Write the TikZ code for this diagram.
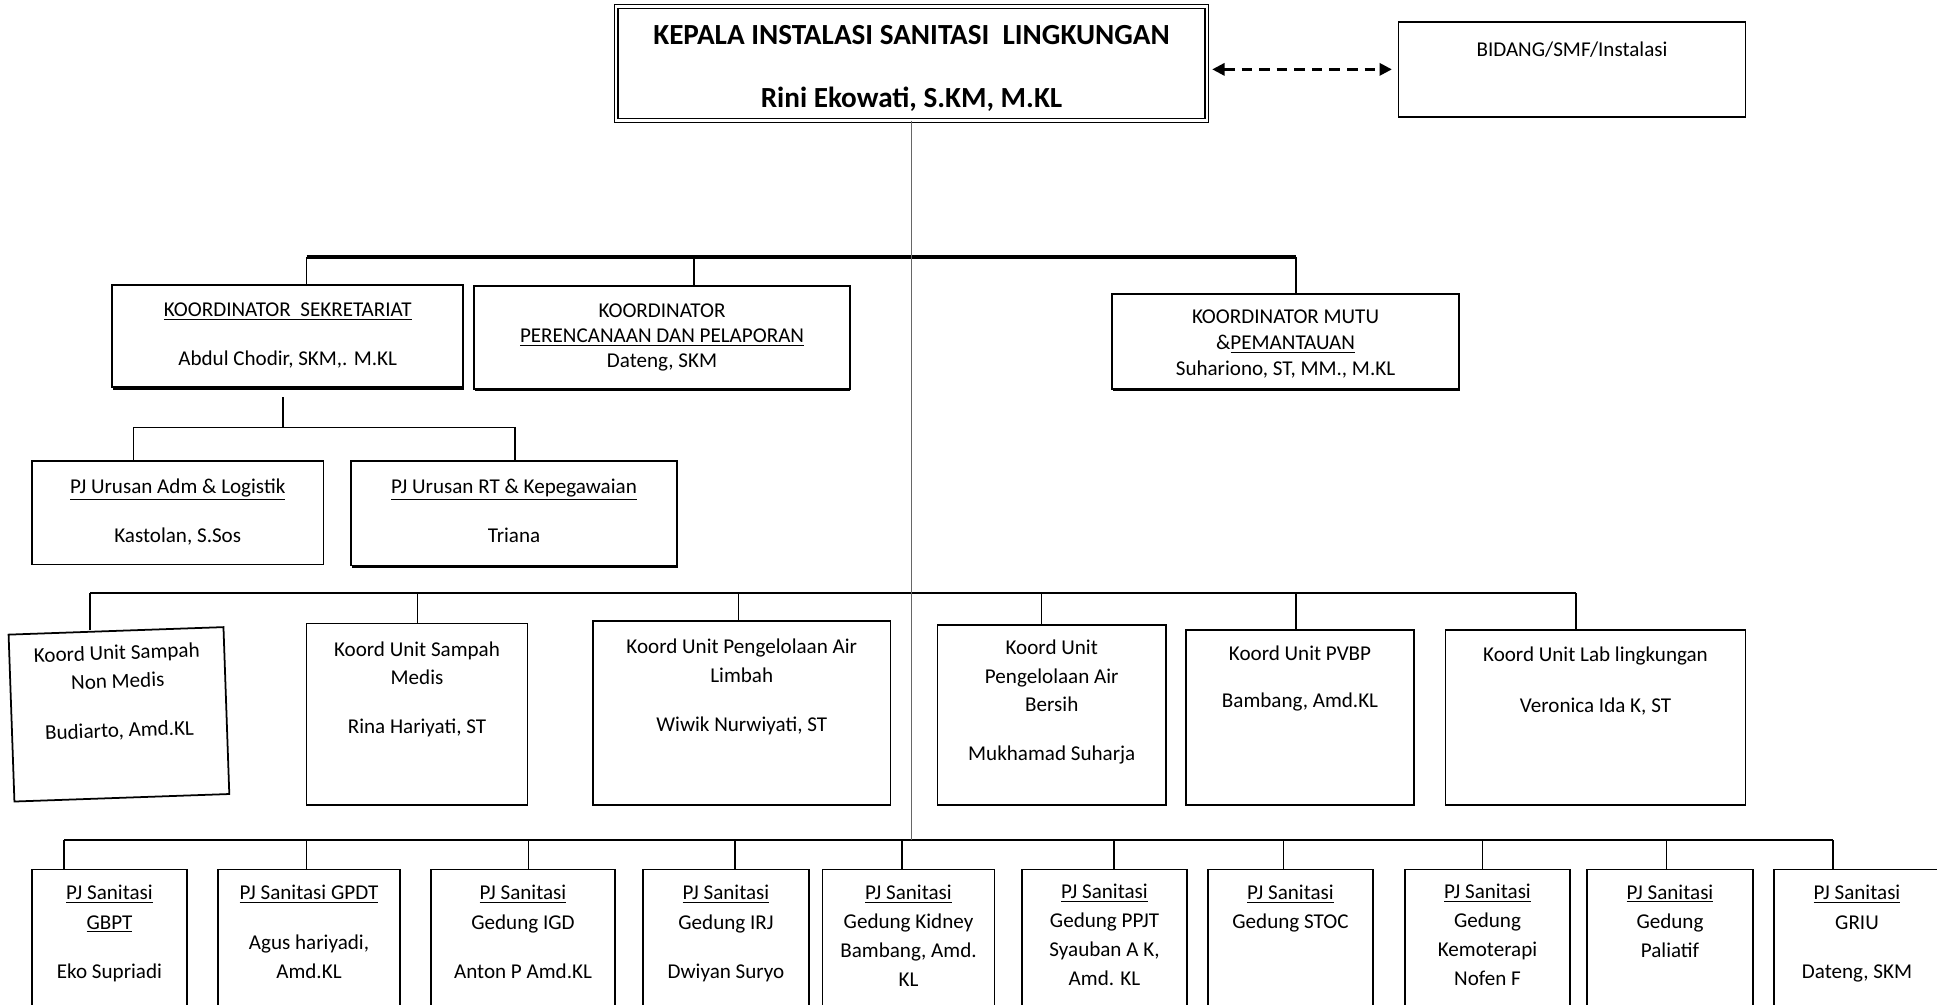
\documentclass[tikz,border=0pt]{standalone}
\usepackage{fontspec}
\setmainfont{Carlito}
\usetikzlibrary{arrows.meta,shadows}

\tikzset{
  unit/.style={draw, fill=white, line width=1pt, align=center, anchor=north, inner xsep=2pt, inner ysep=0pt, font=\fontsize{12}{16.2}\selectfont},
  coord/.style={unit, drop shadow={shadow xshift=0.4pt, shadow yshift=-1.4pt, fill=black, opacity=1}},
  link/.style={line width=0.6pt},
}

\begin{document}
\begin{tikzpicture}
\useasboundingbox (0,0) rectangle (38.74,20.08);
\clip (0,0) rectangle (38.74,20.08);

% kepala dan bidang
\node[unit, double, line width=0.7pt, double distance=1.4pt, minimum width=11.81cm, text height=2.02cm, text depth=0.26cm, font=\fontsize{16.6}{36}\selectfont\bfseries] (kepala) at (18.23,19.96) {KEPALA INSTALASI SANITASI\ \ LINGKUNGAN\\Rini Ekowati, S.KM, M.KL};
\node[unit, minimum width=6.94cm, text height=0.70cm, text depth=1.20cm] (bidang) at (31.44,19.66) {BIDANG/SMF/Instalasi};
\draw[{Triangle[length=7pt,width=7pt]}-{Triangle[length=7pt,width=7pt]}, line width=1.4pt, dash pattern=on 6pt off 4pt, shorten <=2.8pt, shorten >=3.3pt] (kepala.east |- bidang.west) -- (bidang.west);

% koordinator
\node[coord, minimum width=7.02cm, text height=1.61cm, text depth=0.44cm] (sek) at (5.755,14.40) {\underline{KOORDINATOR\ \ SEKRETARIAT}\\[11.6pt]Abdul Chodir, SKM,. M.KL};
\node[coord, minimum width=7.51cm, text height=1.63cm, text depth=0.42cm, font=\fontsize{12}{14.3}\selectfont] (ren) at (13.24,14.37) {KOORDINATOR\\\underline{PERENCANAAN DAN PELAPORAN}\\Dateng, SKM};
\node[coord, minimum width=6.94cm, text height=1.63cm, text depth=0.27cm, font=\fontsize{12}{14.7}\selectfont] (mutu) at (25.71,14.22) {KOORDINATOR MUTU\\\&\underline{PEMANTAUAN}\\Suhariono, ST, MM., M.KL};
\coordinate (b2-sek) at (6.13,14.94);
\coordinate (b2-ren) at (13.88,14.94);
\coordinate (b2-mutu) at (25.92,14.94);
\draw[link] (b2-sek) -- (b2-sek |- sek.north);
\draw[link] (b2-ren) -- (b2-ren |- ren.north);
\draw[line width=1.3pt] (b2-mutu) -- (b2-mutu |- mutu.north);
\draw[line width=2pt] (b2-sek) -- (b2-mutu);

% urusan sekretariat
\node[unit, minimum width=5.83cm, text height=1.62cm, text depth=0.44cm] (adm) at (3.555,10.87) {\underline{PJ Urusan Adm \& Logistik}\\[11.6pt]Kastolan, S.Sos};
\node[coord, minimum width=6.52cm, text height=1.62cm, text depth=0.46cm] (rt) at (10.28,10.87) {\underline{PJ Urusan RT \& Kepegawaian}\\[11.6pt]Triana};
\coordinate (subbus) at (5.66,11.53);
\coordinate (sub-adm) at (2.67,11.53);
\coordinate (sub-rt) at (10.30,11.53);
\draw[link, shorten <=0.18cm] (subbus |- sek.south) -- (subbus);
\draw[link] (sub-adm) -- (sub-rt);
\draw[link] (sub-adm) -- (sub-adm |- adm.north);
\draw[link] (sub-rt) -- (sub-rt |- rt.north);

% koord unit
\node[unit, rotate=2, minimum width=4.30cm, text height=2.13cm, text depth=1.21cm] (nonmedis) at (2.32,7.48) {Koord Unit Sampah\\Non Medis\\[11.9pt]Budiarto, Amd.KL};
\node[unit, minimum width=4.42cm, text height=2.21cm, text depth=1.42cm] (medis) at (8.34,7.63) {Koord Unit Sampah\\Medis\\[11.9pt]Rina Hariyati, ST};
\node[unit, minimum width=5.95cm, text height=2.21cm, text depth=1.47cm] (limbah) at (14.835,7.68) {Koord Unit Pengelolaan Air\\Limbah\\[11.9pt]Wiwik Nurwiyati, ST};
\node[unit, minimum width=4.57cm, text height=2.72cm, text depth=0.88cm] (bersih) at (21.035,7.60) {Koord Unit\\Pengelolaan Air\\Bersih\\[11.9pt]Mukhamad Suharja};
\node[unit, minimum width=4.57cm, text height=1.56cm, text depth=1.94cm] (pvbp) at (26.0,7.50) {Koord Unit PVBP\\[11pt]Bambang, Amd.KL};
\node[unit, minimum width=6.00cm, text height=1.66cm, text depth=1.84cm] (lab) at (31.91,7.50) {Koord Unit Lab lingkungan\\[13pt]Veronica Ida K, ST};
\foreach \x/\nm in {1.80/nonmedis, 8.35/medis, 14.77/limbah, 20.83/bersih, 25.92/pvbp, 31.52/lab}{
	\coordinate (b3-\nm) at (\x,8.22);
	\draw[link] (b3-\nm) -- (b3-\nm |- \nm.north);}
\draw[link] (b3-nonmedis) -- (b3-lab);

% pj sanitasi
\foreach \cx/\w/\th/\dx/\nm/\txt in {
	2.19/3.09/2.18/1.28/gbpt/{\underline{PJ Sanitasi}\\\underline{GBPT}\\[11.5pt]Eko Supriadi},
	6.18/3.65/2.18/6.13/gpdt/{\underline{PJ Sanitasi GPDT}\\[11.5pt]Agus hariyadi,\\Amd.KL},
	10.46/3.68/2.18/10.57/igd/{\underline{PJ Sanitasi}\\Gedung IGD\\[11.5pt]Anton P Amd.KL},
	14.52/3.33/2.18/14.70/irj/{\underline{PJ Sanitasi}\\Gedung IRJ\\[11.5pt]Dwiyan Suryo},
	18.17/3.44/2.35/18.04/kidney/{\underline{PJ Sanitasi}\\Gedung Kidney\\Bambang, Amd.\\KL},
	22.09/3.31/2.33/22.28/ppjt/{\underline{PJ Sanitasi}\\Gedung PPJT\\Syauban A K,\\Amd. KL},
	25.81/3.29/1.19/25.67/stoc/{\underline{PJ Sanitasi}\\Gedung STOC},
	29.75/3.31/2.33/29.65/kemo/{\underline{PJ Sanitasi}\\Gedung\\Kemoterapi\\Nofen F},
	33.40/3.31/1.76/33.33/paliatif/{\underline{PJ Sanitasi}\\Gedung\\Paliatif},
	37.14/3.32/2.18/36.66/griu/{\underline{PJ Sanitasi}\\GRIU\\[11.5pt]Dateng, SKM}}{
	\node[unit, minimum width=\w cm, text height=\th cm, text depth=2.2cm, font=\fontsize{12}{16.6}\selectfont] (pj-\nm) at (\cx,2.71) {\txt};
	\coordinate (b4-\nm) at (\dx,3.28);
	\draw[link] (b4-\nm) -- (b4-\nm |- pj-\nm.north);}
\draw[line width=0.9pt] (b4-gbpt) -- (b4-griu);

% garis utama
\draw[line width=0.5pt, black!60] (kepala.south) -- (kepala.south |- b4-gbpt);

\end{tikzpicture}
\end{document}
